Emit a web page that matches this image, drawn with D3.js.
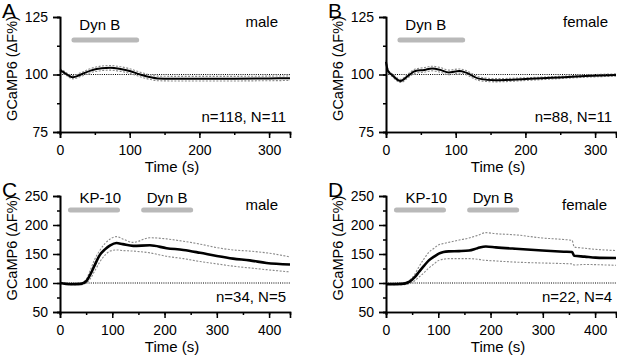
<!DOCTYPE html>
<html><head><meta charset="utf-8">
<script src="https://cdn.jsdelivr.net/npm/d3@7"></script>
<style>body{margin:0;background:#fff}svg{display:block}text{font-family:"Liberation Sans",Arial,sans-serif}</style>
</head><body><svg id="c" width="617" height="358"></svg>
<script>
// ---- data ----
const timeA = [0, 5, 10, 18, 30, 45, 60, 72, 85, 100, 115, 130, 140, 160, 200, 250, 300, 330];
const meanA = [101.9, 101, 100, 98.8, 100, 101.8, 102.7, 102.9, 102.5, 101.5, 100, 98.8, 98.3, 98.2, 98.2, 98.2, 98.3, 98.4];
const semA  = [0.6, 0.6, 0.6, 0.7, 0.8, 0.9, 1.0, 1.0, 1.0, 1.0, 1.0, 1.0, 1.0, 1.0, 1.0, 1.0, 1.0, 1.0];

const timeB = [0, 3, 9, 21, 32, 42, 55, 66, 78, 90, 105, 115, 133, 157, 200, 248, 286, 330];
const meanB = [105.5, 101.5, 99.7, 97.2, 99.5, 101.5, 102, 102.6, 102, 100.9, 101.5, 100.8, 98.2, 97.5, 98, 98.7, 99.3, 99.8];
const semB  = [0.6, 0.6, 0.6, 0.7, 0.8, 0.9, 1.0, 1.0, 1.0, 1.0, 0.9, 0.9, 0.8, 0.7, 0.6, 0.5, 0.5, 0.5];

const timeC  = [0, 20, 40, 50, 57, 66, 76, 86, 96, 108, 120, 140, 172, 204, 236, 268, 300, 331, 363, 395, 440];
const meanC  = [100, 98, 98.5, 103, 113, 130, 148, 158, 165, 169, 167, 164, 165, 160, 157, 152, 146.5, 142, 139, 134.5, 132];
const upperC = [101, 99, 100, 106, 120, 140, 156, 168, 176, 180, 176, 170, 178, 176, 172, 167, 161, 157, 155, 152, 145];
const lowerC = [99, 97, 97, 100, 106, 120, 136, 148, 155, 157, 156, 155, 152, 146, 142, 137, 133, 129, 126, 123, 119];

const timeD  = [0, 30, 44, 55, 63, 73, 82, 92, 101, 110, 120, 140, 159, 175, 191, 210, 248, 299, 340, 356, 360, 380, 401, 440];
const meanD  = [98, 98.5, 101.7, 110, 119, 130, 139, 145.5, 150.6, 153.5, 154.6, 155, 156, 160, 163, 161.5, 159, 156, 154, 153.4, 147, 145.5, 143.7, 143];
const upperD = [99, 100, 104, 115, 128, 142, 153, 160, 166, 168, 170, 174, 177.6, 182, 186.8, 185, 183, 177.6, 175, 173.5, 162, 160, 158, 156];
const lowerD = [97, 97, 99, 104, 110, 118, 126, 133, 139, 141, 142, 142, 142, 141, 139, 138, 136, 134.5, 133.5, 133, 131, 132, 131.6, 130.5];

const ticksYAB = [75, 100, 125];
const ticksYCD = [50, 100, 150, 200, 250];
const ticksXAB = [0, 100, 200, 300];
const ticksXCD = [0, 100, 200, 300, 400];

const barsAB = [{label: "Dyn B", start: 20, end: 110, textAt: 57}];
const barsCD = [{label: "KP-10", start: 20, end: 110, textAt: 77}, {label: "Dyn B", start: 160, end: 250, textAt: 205}];

// ---- build panels ----
const upA = timeA.map((t,i)=>meanA[i]+semA[i]), loA = timeA.map((t,i)=>meanA[i]-semA[i]);
const upB = timeB.map((t,i)=>meanB[i]+semB[i]), loB = timeB.map((t,i)=>meanB[i]-semB[i]);

const panels = [
  {letter:"A", sex:"male", n:"n=118, N=11", t:timeA, mean:meanA, up:upA, lo:loA, xmax:330, ydom:[75,125], yt:ticksYAB, xt:ticksXAB, bars:barsAB, x0:60, x1:290, y0:132, y1:17, lw:2, sexR:12},
  {letter:"B", sex:"female", n:"n=88, N=11", t:timeB, mean:meanB, up:upB, lo:loB, xmax:330, ydom:[75,125], yt:ticksYAB, xt:ticksXAB, bars:barsAB, x0:386, x1:616, y0:132, y1:17, lw:2, sexR:8},
  {letter:"C", sex:"male", n:"n=34, N=5", t:timeC, mean:meanC, up:upperC, lo:lowerC, xmax:440, ydom:[50,250], yt:ticksYCD, xt:ticksXCD, bars:barsCD, x0:60, x1:290, y0:312, y1:196, lw:2.6, sexR:12},
  {letter:"D", sex:"female", n:"n=22, N=4", t:timeD, mean:meanD, up:upperD, lo:lowerD, xmax:440, ydom:[50,250], yt:ticksYCD, xt:ticksXCD, bars:barsCD, x0:386, x1:616, y0:312, y1:196, lw:2.6, sexR:9}
];

const svg = d3.select("#c");
const FONT = "Liberation Sans, Arial, sans-serif";

panels.forEach(p => {
  const g = svg.append("g");
  const x = d3.scaleLinear().domain([0, p.xmax]).range([p.x0, p.x1]);
  const y = d3.scaleLinear().domain(p.ydom).range([p.y0, p.y1]);
  const xm = (p.x0 + p.x1) / 2;
  const low = (p.letter==="C"||p.letter==="D");

  // baseline 100 dotted
  g.append("line").attr("x1", x(0)).attr("x2", x(p.xmax)).attr("y1", y(100)).attr("y2", y(100))
    .attr("stroke", "#000").attr("stroke-width", 1).attr("stroke-dasharray", "1,1.2");

  const line = (vals) => d3.line().x((d,i)=>x(p.t[i])).y(d=>y(d)).curve(d3.curveMonotoneX)(vals);
  g.append("path").attr("d", line(p.up)).attr("fill","none").attr("stroke","#8a8a8a").attr("stroke-width",1.1).attr("stroke-dasharray","2,1.5");
  g.append("path").attr("d", line(p.lo)).attr("fill","none").attr("stroke","#8a8a8a").attr("stroke-width",1.1).attr("stroke-dasharray","2,1.5");
  g.append("path").attr("d", line(p.mean)).attr("fill","none").attr("stroke","#000").attr("stroke-width",p.lw).attr("stroke-linejoin","round");

  // axes
  const minorY = d3.range(p.ydom[0], p.ydom[1] + 0.001, (p.yt[1]-p.yt[0])/2);
  const minorX = d3.range(0, p.xmax + 0.001, 50);
  const ax = g.append("g").attr("transform", `translate(${p.x0},0)`);
  ax.call(d3.axisLeft(y).tickValues(minorY).tickSize(3).tickFormat(""));
  ax.append("g").call(d3.axisLeft(y).tickValues(p.yt).tickSize(7).tickPadding(5));
  const bx = g.append("g").attr("transform", `translate(0,${p.y0})`);
  bx.call(d3.axisBottom(x).tickValues(minorX).tickSize(3).tickFormat(""));
  bx.append("g").call(d3.axisBottom(x).tickValues(p.xt).tickSize(6).tickPadding(7));
  g.selectAll(".domain").attr("stroke","#000").attr("stroke-width",1.6);
  g.selectAll(".tick line").attr("stroke","#000").attr("stroke-width",1.5);
  g.selectAll(".tick text").attr("font-family", FONT).attr("font-size", 14).attr("fill","#000");

  // axis labels
  g.append("text").attr("x", xm - 3).attr("y", p.y0 + 40).attr("text-anchor","middle")
    .attr("font-family",FONT).attr("font-size",15).text("Time (s)");
  g.append("text").attr("transform", `translate(${p.x0 - 43},${(p.y0+p.y1)/2 - 6}) rotate(-90)`)
    .attr("text-anchor","middle").attr("font-family",FONT).attr("font-size",14.5).text("GCaMP6 (ΔF%)");

  // panel letter
  g.append("text").attr("x", p.x0 - 58).attr("y", p.y1 + 1).attr("font-family",FONT).attr("font-size",21).text(p.letter);

  // bars
  p.bars.forEach(b => {
    const by = p.y1 + 23 - (low ? 9 : 0);
    g.append("line").attr("x1", x(b.start)).attr("x2", x(b.end)).attr("y1", by).attr("y2", by)
      .attr("stroke","#b9b9b9").attr("stroke-width",5).attr("stroke-linecap","round");
    g.append("text").attr("x", x(b.textAt)).attr("y", p.y1 + 13 - (low ? 6 : 0)).attr("text-anchor","middle")
      .attr("font-family",FONT).attr("font-size",15).text(b.label);
  });

  // sex label and n
  g.append("text").attr("x", p.x1 - p.sexR).attr("y", p.y1 + 10 + (low ? 4 : 0)).attr("text-anchor","end")
    .attr("font-family",FONT).attr("font-size",15).text(p.sex);
  g.append("text").attr("x", p.x1 - 4).attr("y", p.y0 - 10).attr("text-anchor","end")
    .attr("font-family",FONT).attr("font-size",15).text(p.n);
});
</script></body></html>
